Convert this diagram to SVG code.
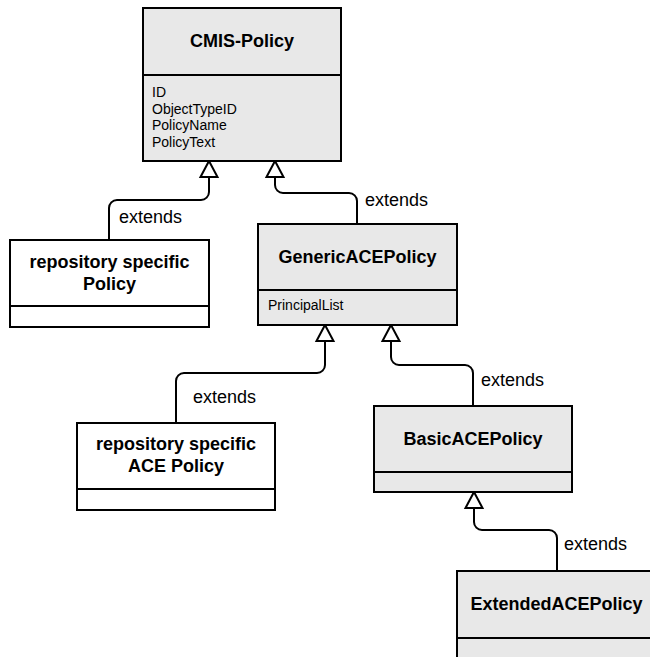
<svg xmlns="http://www.w3.org/2000/svg" width="650" height="657" viewBox="0 0 650 657">
<style>
.box{stroke:#000;stroke-width:2}
.grey{fill:#e8e8e8}
.white{fill:#fff}
.title{font-family:"Liberation Sans",Arial,sans-serif;font-weight:bold;font-size:18px;text-anchor:middle;fill:#000}
.attr{font-family:"Liberation Sans",Arial,sans-serif;font-size:14px;fill:#000}
.lbl{font-family:"Liberation Sans",Arial,sans-serif;font-size:18px;fill:#000}
.conn{fill:none;stroke:#000;stroke-width:2;marker-start:url(#tri)}
</style>
<defs>
<marker id="tri" markerUnits="userSpaceOnUse" orient="auto" refX="0" refY="0" markerWidth="20" markerHeight="20" viewBox="-2 -10 20 20" overflow="visible">
<path d="M0,0 L16,-8.5 L16,8.5 Z" fill="#fff" stroke="#000" stroke-width="2" stroke-linejoin="miter"/>
</marker>
</defs>
<rect width="650" height="657" fill="#fff"/>
<g id="connectors">
<path class="conn" d="M209,161 V192 A8,8 0 0 1 201,200 H117 A8,8 0 0 0 109,208 V240"/>
<path class="conn" d="M275,161 V185 A8,8 0 0 0 283,193 H349 A8,8 0 0 1 357,201 V224"/>
<path class="conn" d="M325,325 V365 A8,8 0 0 1 317,373 H184 A8,8 0 0 0 176,381 V423"/>
<path class="conn" d="M391,325 V357 A8,8 0 0 0 399,365 H465 A8,8 0 0 1 473,373 V406"/>
<path class="conn" d="M474,492 V522 A8,8 0 0 0 482,530 H549 A8,8 0 0 1 557,538 V571"/>
<text class="lbl" x="119" y="223">extends</text>
<text class="lbl" x="365" y="206">extends</text>
<text class="lbl" x="193" y="403">extends</text>
<text class="lbl" x="481" y="386">extends</text>
<text class="lbl" x="564" y="550">extends</text>
</g>
<g id="cmis-policy">
<rect class="box grey" x="143" y="8" width="198" height="153"/>
<line class="box" x1="143" y1="75" x2="341" y2="75"/>
<text class="title" x="242" y="47">CMIS-Policy</text>
<text class="attr" x="152" y="97">ID</text>
<text class="attr" x="152" y="113.5">ObjectTypeID</text>
<text class="attr" x="152" y="130">PolicyName</text>
<text class="attr" x="152" y="146.5">PolicyText</text>
</g>
<g id="repository-specific-policy">
<rect class="box white" x="10" y="240" width="199" height="87"/>
<line class="box" x1="10" y1="306" x2="209" y2="306"/>
<text class="title" x="109.5" y="268">repository specific</text>
<text class="title" x="109.5" y="290">Policy</text>
</g>
<g id="generic-ace-policy">
<rect class="box grey" x="258" y="224" width="199" height="101"/>
<line class="box" x1="258" y1="290" x2="457" y2="290"/>
<text class="title" x="357.5" y="263">GenericACEPolicy</text>
<text class="attr" x="268" y="310">PrincipalList</text>
</g>
<g id="repository-specific-ace-policy">
<rect class="box white" x="77" y="423" width="198" height="87"/>
<line class="box" x1="77" y1="489" x2="275" y2="489"/>
<text class="title" x="176" y="450">repository specific</text>
<text class="title" x="176" y="472">ACE Policy</text>
</g>
<g id="basic-ace-policy">
<rect class="box grey" x="374" y="406" width="198" height="86"/>
<line class="box" x1="374" y1="472" x2="572" y2="472"/>
<text class="title" x="473" y="445">BasicACEPolicy</text>
</g>
<g id="extended-ace-policy">
<rect class="box grey" x="457" y="571" width="199" height="100"/>
<line class="box" x1="457" y1="638" x2="656" y2="638"/>
<text class="title" x="556.5" y="610">ExtendedACEPolicy</text>
</g>
</svg>
